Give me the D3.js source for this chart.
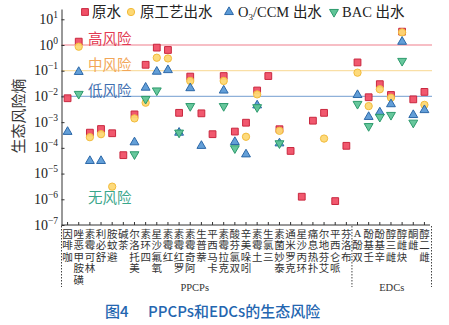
<!DOCTYPE html>
<html><head><meta charset="utf-8">
<script src="https://cdn.jsdelivr.net/npm/d3@7"></script>
<style>
html,body{margin:0;padding:0;background:#fff;}
svg{display:block;}
</style></head>
<body>
<svg id="chart" width="449" height="325"></svg>
<script>
const categories = ["咖啡因","磺胺甲恶唑","林可霉素","舒必利","避蚊胺","茶碱","美托洛尔","四环素","氧氟沙星","红霉素",
  "罗红霉素","阿奇霉素","萘普生","卡马西平","克拉霉素","双氯芬酸","吲哚美辛","土霉素","三氯生","泰妙菌素",
  "克罗米通","环丙沙星","扑热息痛","艾芬地尔","哌仑西平","布洛芬",
  "双酚A","壬基酚","辛基酚","雌三醇","炔雌醇","雌酮","雌二醇"];
const groups = ["PPCPs","EDCs"];
const groupSizes = [26, 7];
const seriesNames = ["原水","原工艺出水","O3/CCM 出水","BAC 出水"];
const rawWater = [0.0085,1.35,3.9e-4,5.4e-4,3.7e-4,5.2e-5,2.0e-3,0.17,0.79,0.64,
  2.3e-3,0.059,2.2e-3,3.4e-4,0.062,4.3e-4,9.5e-4,0.017,0.062,5.3e-4,
  7.6e-5,1.26e-6,1.14e-3,2.3e-3,8.5e-7,1.2e-4,
  0.21,0.0093,0.030,0.0114,3.3,0.0077,0.015];
const oldProcess = [null,0.86,2.6e-4,3.4e-4,3.1e-6,null,1.4e-3,0.0057,0.32,0.30,
  null,0.040,null,null,0.040,null,2.7e-4,0.012,null,4.6e-4,
  null,null,null,2.3e-4,null,null,
  0.084,0.0042,0.019,0.0089,3.1,null,0.0047];
const o3ccm = [4.2e-4,0.09,3.1e-5,3.1e-5,null,null,1.65e-4,0.022,0.092,0.106,
  3.9e-4,0.021,1.2e-4,null,0.017,1.7e-4,5.6e-5,0.0045,null,1.5e-4,
  null,null,null,null,null,null,
  0.0114,0.0016,2.4e-3,0.005,1.34,1.9e-3,2.95e-3];
const bac = [null,0.0125,null,null,null,null,5.6e-5,0.008,0.017,null,
  3.9e-4,0.0042,null,null,0.0042,9.6e-5,null,0.0038,null,1.5e-4,
  null,null,null,null,null,null,
  0.0051,7.0e-4,1.6e-3,1.9e-3,0.24,9.5e-4,null];
const yTicks = [1e-7,1e-6,1e-5,1e-4,1e-3,1e-2,1e-1,1,10];
const riskLevels = [1, 0.1, 0.01];
const riskLabels = ["高风险","中风险","低风险","无风险"];
const riskLabelValues = [1.9, 0.19, 0.019, 1.3e-6];

const svg = d3.select("#chart");
const axisX = 61.5;
const x = d3.scaleBand().domain(categories).range([62, 430]);
const y = d3.scaleLog().domain([1e-7, Math.pow(10,1.4)]).range([225, 9]);
const cx = c => x(c) + x.bandwidth()/2;

const riskColors = ["#f07f8c","#f9dfa6","#8fb1d9"];
const riskTextColors = ["#e23a52","#f2a658","#3f6fb0","#3aa68b"];

// risk lines
svg.selectAll("line.risk").data(riskLevels).join("line").attr("class","risk")
  .attr("x1", axisX).attr("x2", 432).attr("y1", d=>y(d)).attr("y2", d=>y(d))
  .attr("stroke", (d,i)=>riskColors[i]).attr("stroke-width",1.2);
svg.selectAll("text.risk").data(riskLabels).join("text").attr("class","risk")
  .attr("x", 88).attr("y", (d,i)=>y(riskLabelValues[i]))
  .attr("dominant-baseline","central")
  .attr("font-family","Noto Sans CJK SC").attr("font-size",14.5)
  .attr("fill",(d,i)=>riskTextColors[i]).text(d=>d);

// y axis
const yAxis = d3.axisLeft(y).tickValues(yTicks).tickSizeInner(-3).tickSizeOuter(0).tickFormat("");
const gy = svg.append("g").attr("transform",`translate(${axisX},0)`).call(yAxis);
gy.select(".domain").attr("stroke","#333");
gy.selectAll(".tick line").attr("stroke","#333");
const ylab = svg.append("g");
yTicks.forEach(v=>{
  const e = Math.round(Math.log10(v));
  const t = ylab.append("text").attr("x",58).attr("y",y(v)+4.5).attr("text-anchor","end")
    .attr("font-family","Liberation Serif").attr("font-size",14).attr("fill","#222");
  t.append("tspan").text("10");
  t.append("tspan").attr("dy",-6).attr("font-size",9.5).text(e<0?"\u2212"+(-e):String(e));
});

// x axis
const xAxis = d3.axisBottom(x).tickSizeInner(-3).tickSizeOuter(0).tickFormat("");
const gx = svg.append("g").attr("transform","translate(0,225)").call(xAxis);
gx.select(".domain").attr("stroke","#333").attr("d","M"+axisX+",0H430");
gx.selectAll(".tick line").attr("stroke","#333");

// vertical category labels (characters stacked, last char at top)
const lab = svg.append("g").attr("font-family","Noto Sans CJK SC").attr("font-size",10.5).attr("fill","#333");
categories.forEach(c=>{
  const chars = Array.from(c).reverse();
  chars.forEach((ch,i)=>{
    lab.append("text").attr("x",cx(c)).attr("y",233+i*11.6)
      .attr("text-anchor","middle").attr("dominant-baseline","central")
      .attr("font-family", /[A-Za-z]/.test(ch)?"Liberation Serif":"Noto Sans CJK SC")
      .text(ch);
  });
});

// group separators and group labels
const sepX = [axisX, (cx(categories[25])+cx(categories[26]))/2, 431.5];
svg.selectAll("line.sep").data(sepX).join("line").attr("class","sep")
  .attr("x1",d=>d).attr("x2",d=>d).attr("y1",226).attr("y2",287)
  .attr("stroke","#444").attr("stroke-width",1).attr("stroke-dasharray","1.5,1.5");
const groupCenters = [(sepX[0]+sepX[1])/2+(-12), (sepX[1]+sepX[2])/2];
svg.selectAll("text.grp").data(groups).join("text").attr("class","grp")
  .attr("x",(d,i)=>groupCenters[i]).attr("y",291).attr("text-anchor","middle")
  .attr("font-family","Liberation Serif").attr("font-size",10.5).attr("fill","#333").text(d=>d);

// markers
const styles = [
  {data: rawWater, sym: d3.symbolSquare, size: 46, fill:"#f04f66", stroke:"#c9283f", rot:0},
  {data: oldProcess, sym: d3.symbolCircle, size: 42, fill:"#fdd874", stroke:"#f2bb3c", rot:0},
  {data: o3ccm, sym: d3.symbolTriangle, size: 34, fill:"#5b9ad6", stroke:"#2c68a8", rot:0},
  {data: bac, sym: d3.symbolTriangle, size: 34, fill:"#5fc497", stroke:"#2c9a6c", rot:180}
];
styles.forEach(s=>{
  const pts = categories.map((c,i)=>({c, v:s.data[i]})).filter(d=>d.v!=null);
  svg.append("g").selectAll("path").data(pts).join("path")
    .attr("d", d3.symbol().type(s.sym).size(s.size))
    .attr("transform", d=>`translate(${cx(d.c)},${y(d.v)}) rotate(${s.rot})`)
    .attr("fill", s.fill).attr("stroke", s.stroke).attr("stroke-width",1).attr("fill-opacity",0.95);
});

// legend
const legX = [85, 131, 229, 334];
const leg = svg.append("g");
styles.forEach((s,i)=>{
  leg.append("path").attr("d", d3.symbol().type(s.sym).size(s.size))
    .attr("transform",`translate(${legX[i]},12) rotate(${s.rot})`)
    .attr("fill",s.fill).attr("stroke",s.stroke).attr("stroke-width",1);
});
const legText = (xp, parts) => {
  const t = leg.append("text").attr("x",xp).attr("y",17).attr("font-size",14.5).attr("fill","#222");
  parts.forEach(p=>{
    const ts = t.append("tspan").attr("font-family", p.f).text(p.t);
    if(p.dy) ts.attr("dy",p.dy);
    if(p.fs) ts.attr("font-size",p.fs);
  });
};
legText(92, [{t:"原水", f:"Noto Sans CJK SC"}]);
legText(140, [{t:"原工艺出水", f:"Noto Sans CJK SC"}]);
legText(238, [{t:"O", f:"Liberation Serif"},{t:"3", f:"Liberation Serif", dy:3, fs:9},{t:"/CCM ", f:"Liberation Serif", dy:-3},{t:"出水", f:"Noto Sans CJK SC"}]);
legText(342, [{t:"BAC ", f:"Liberation Serif"},{t:"出水", f:"Noto Sans CJK SC"}]);

// y label
svg.append("text").attr("transform","translate(17,116) rotate(-90)")
  .attr("text-anchor","middle").attr("dominant-baseline","central")
  .attr("font-family","Noto Sans CJK SC").attr("font-size",15).attr("fill","#333").text("生态风险熵");

// caption
const cap = svg.append("text").attr("y",317).attr("font-family","Noto Sans CJK SC")
  .attr("font-size",15).attr("font-weight",500).attr("fill","#2466b0");
cap.append("tspan").attr("x",105).text("图4");
cap.append("tspan").attr("x",148).text("PPCPs和EDCs的生态风险");
</script>
</body></html>
